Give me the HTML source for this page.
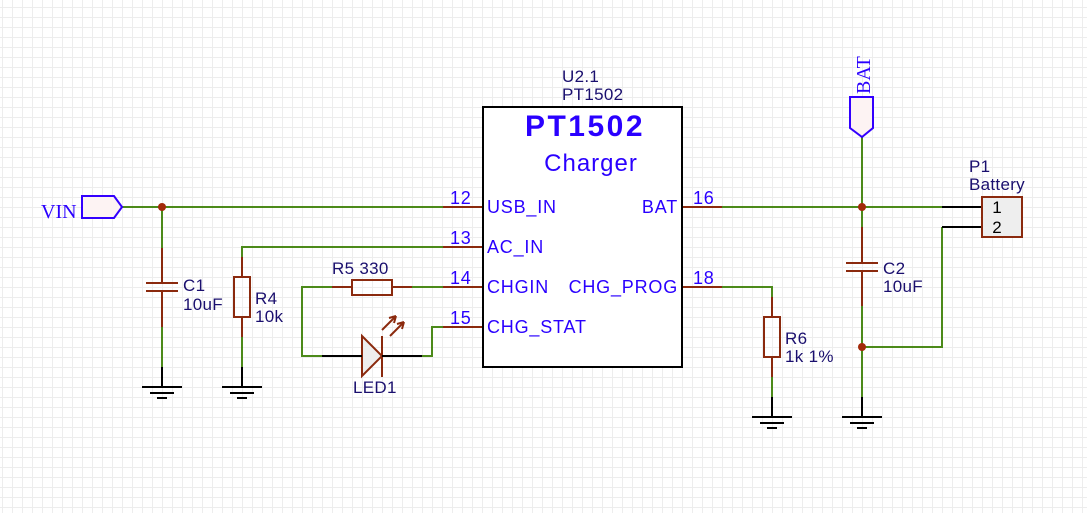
<!DOCTYPE html>
<html><head><meta charset="utf-8"><style>
html,body{margin:0;padding:0;width:1087px;height:513px;overflow:hidden}
body{background-color:#fff;background-image:linear-gradient(to right,#ededed 1px,transparent 1px),linear-gradient(to bottom,#ededed 1px,transparent 1px);background-size:10px 10px;background-position:2px 7px}
svg{display:block}
text{font-family:"Liberation Sans",sans-serif}
</style></head><body>
<svg width="1087" height="513" viewBox="0 0 1087 513" xmlns="http://www.w3.org/2000/svg">
<g fill="none" stroke-width="2">
<g stroke="#4c8a1a">
<path d="M122 207H443"/>
<path d="M162 207V248M162 327V367"/>
<path d="M242 257V247H443M242 337V367"/>
<path d="M332 287H302V356H322M412 287H443"/>
<path d="M422 356H432V327H443"/>
<path d="M722 207H942"/>
<path d="M862 137V227M862 306V397"/>
<path d="M862 347H942V227"/>
<path d="M722 287H772V297M772 377V397"/>
</g>
<g stroke="#8b2a0e">
<path d="M443 207H482M443 247H482M443 287H482M443 327H482M682 207H722M682 287H722"/>
<path d="M162 248V283M162 291V327M146 283H178M146 291H178"/>
<path d="M242 257V277M242 317V337"/>
<rect x="234" y="277" width="16" height="40"/>
<path d="M332 287H352M392 287H412"/>
<rect x="352" y="280" width="40" height="15"/>
<path d="M862 227V263M862 271V306M846 263H878M846 271H878"/>
<path d="M772 297V317M772 357V377"/>
<rect x="764" y="317" width="16" height="40"/>
<path d="M382 336V377"/>
<path d="M382 330L396 316M390 336L404 322"/>
</g>
<polygon points="362,336 382,356 362,376" fill="#eee" stroke="#8b2a0e"/>
<path d="M396 316l-7 2M396 316l-2 7M404 322l-7 2M404 322l-2 7" stroke="#8b2a0e"/>
<g stroke="#000">
<path d="M322 356H362M382 356H422"/>
<path d="M942 207H982M942 227H982"/>
<path d="M162 367V387M142 387H182M150 393H174M157 398H167"/>
<path d="M242 367V387M222 387H262M230 393H254M237 398H247"/>
<path d="M862 397V417M842 417H882M850 423H874M857 428H867"/>
<path d="M772 397V417M752 417H792M760 423H784M767 428H777"/>
</g>
<rect x="483" y="107" width="199" height="260" stroke="#000" fill="#fff"/>
<rect x="982" y="197" width="40" height="40" stroke="#8b2a0e" fill="#eee"/>
<polygon points="82,196 114,196 122,207 114,218 82,218" stroke="#3300ff" fill="#fdf3f3"/>
<polygon points="850,97 873,97 873,128 862,137 850,128" stroke="#3300ff" fill="#fdf3f3"/>
</g>
<circle cx="162" cy="207" r="4" fill="#a32a0a"/>
<circle cx="862" cy="207" r="4" fill="#a32a0a"/>
<circle cx="862" cy="347" r="4" fill="#a32a0a"/>
<g fill="#2a00ff">
<text x="41" y="218" font-size="20" style="font-family:'Liberation Serif',serif">VIN</text>
<text transform="translate(870,94) rotate(-90)" font-size="20" style="font-family:'Liberation Serif',serif">BAT</text>
<text x="585" y="136" font-size="30" font-weight="bold" letter-spacing="2.5" text-anchor="middle">PT1502</text>
<text x="591" y="171" font-size="24" letter-spacing="1" text-anchor="middle">Charger</text>
<g font-size="18" letter-spacing="0.8">
<text x="487" y="213">USB_IN</text>
<text x="487" y="253">AC_IN</text>
<text x="487" y="293">CHGIN</text>
<text x="487" y="333">CHG_STAT</text>
<text x="678" y="213" text-anchor="end">BAT</text>
<text x="678" y="293" text-anchor="end">CHG_PROG</text>
<text x="450" y="204">12</text>
<text x="450" y="244">13</text>
<text x="450" y="284">14</text>
<text x="450" y="324">15</text>
<text x="693" y="204">16</text>
<text x="693" y="284">18</text>
</g>
</g>
<g fill="#1a0f6e" font-size="17" letter-spacing="0.3">
<text x="562" y="82">U2.1</text>
<text x="562" y="100">PT1502</text>
<text x="183" y="291">C1</text>
<text x="183" y="310">10uF</text>
<text x="255" y="304">R4</text>
<text x="255" y="322">10k</text>
<text x="332" y="274">R5 330</text>
<text x="353" y="393">LED1</text>
<text x="785" y="344">R6</text>
<text x="785" y="362">1k 1%</text>
<text x="883" y="274">C2</text>
<text x="883" y="292">10uF</text>
<text x="969" y="172">P1</text>
<text x="969" y="190">Battery</text>
</g>
<g fill="#000" font-size="17">
<text x="997" y="213" text-anchor="middle">1</text>
<text x="997" y="233" text-anchor="middle">2</text>
</g>
</svg>
</body></html>
